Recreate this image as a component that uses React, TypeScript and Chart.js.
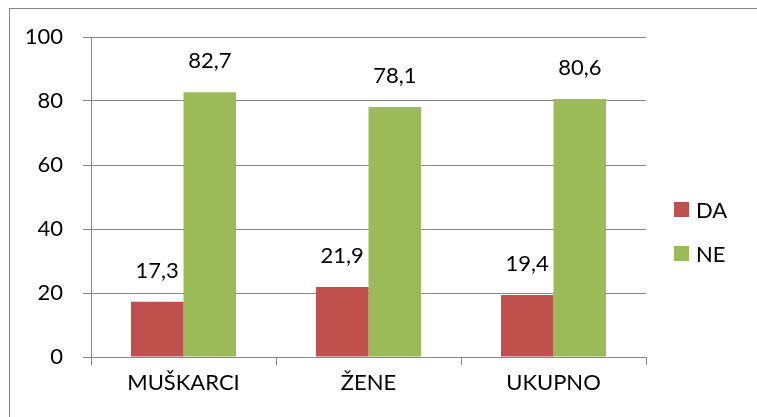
import React, { useEffect, useRef } from "react";
import { Chart, registerables } from "chart.js";

Chart.register(...registerables);

const categories = ["MUŠKARCI", "ŽENE", "UKUPNO"];
const seriesNames = ["DA", "NE"];
const daValues = [17.3, 21.9, 19.4];
const neValues = [82.7, 78.1, 80.6];
const colors = ["#C0504D", "#9BBB59"];

const FONT = "Lato, 'Open Sans', sans-serif";
const FS = 22;

const labelsPlugin = {
  id: "valueLabels",
  afterDatasetsDraw(chart: any) {
    const ctx = chart.ctx;
    ctx.save();
    ctx.font = `${FS}px ${FONT}`;
    ctx.fillStyle = "#000";
    ctx.textAlign = "center";
    ctx.textBaseline = "middle";
    chart.data.datasets.forEach((ds: any, i: number) => {
      const meta = chart.getDatasetMeta(i);
      meta.data.forEach((bar: any, j: number) => {
        const v = ds.data[j] as number;
        ctx.fillText(v.toFixed(1).replace(".", ","), bar.x, bar.y - 31);
      });
    });
    ctx.restore();
  },
};

const legendPlugin = {
  id: "customLegend",
  afterDraw(chart: any) {
    const ctx = chart.ctx;
    ctx.save();
    ctx.font = `${FS}px ${FONT}`;
    ctx.textBaseline = "middle";
    ctx.textAlign = "left";
    chart.data.datasets.forEach((ds: any, i: number) => {
      const y = 209.5 + i * 44;
      ctx.fillStyle = ds.backgroundColor;
      ctx.fillRect(674, y - 7.5, 15, 15);
      ctx.fillStyle = "#000";
      ctx.fillText(ds.label, 696, y + 1);
    });
    ctx.restore();
  },
};

export default function App() {
  const ref = useRef<HTMLCanvasElement | null>(null);
  useEffect(() => {
    if (!ref.current) return;
    const chart = new Chart(ref.current, {
      type: "bar",
      data: {
        labels: categories,
        datasets: [
          { label: seriesNames[0], data: daValues, backgroundColor: colors[0] },
          { label: seriesNames[1], data: neValues, backgroundColor: colors[1] },
        ],
      },
      options: {
        animation: false,
        responsive: false,
        devicePixelRatio: 1,
        layout: { padding: { top: 37, right: 111, left: 0, bottom: 0 } },
        plugins: { legend: { display: false }, tooltip: { enabled: false } },
        datasets: { bar: { categoryPercentage: 0.568, barPercentage: 1 } },
        scales: {
          x: {
            grid: { offset: true, drawOnChartArea: false, color: "#868686", tickLength: 8 },
            border: { color: "#868686" },
            ticks: { color: "#000", font: { family: FONT, size: FS }, padding: 5 },
            afterFit(scale: any) {
              scale.height = 60;
            },
          },
          y: {
            min: 0,
            max: 100,
            ticks: { stepSize: 20, color: "#000", font: { family: FONT, size: FS }, padding: 20 },
            grid: { color: "#868686", tickLength: 8 },
            border: { color: "#868686" },
            afterFit(scale: any) {
              scale.width = 91;
            },
          },
        },
      } as any,
      plugins: [labelsPlugin, legendPlugin],
    });
    return () => chart.destroy();
  }, []);
  return (
    <div style={{ position: "fixed", left: 0, top: 0, width: 757, height: 417, background: "#fff", overflow: "hidden" }}>
      <canvas ref={ref} width={757} height={417} style={{ position: "absolute", left: 0, top: 0, width: 757, height: 417 }} />
      <div
        style={{
          position: "absolute",
          left: 9,
          top: 8,
          width: 800,
          height: 500,
          borderTop: "1px solid #868686",
          borderLeft: "1px solid #868686",
          pointerEvents: "none",
        }}
      />
    </div>
  );
}
